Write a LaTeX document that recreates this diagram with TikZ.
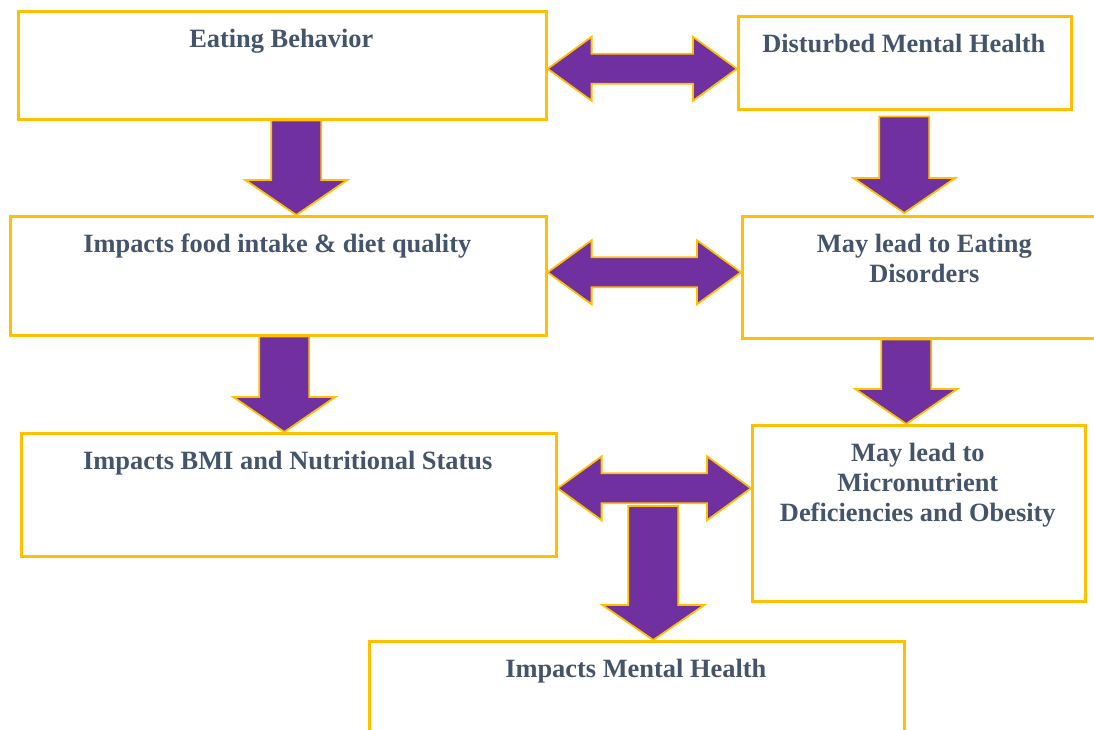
\documentclass[tikz,border=0pt]{standalone}
\usepackage{fontspec}
\setmainfont{Liberation Serif}
\usepackage{xcolor}
\usepackage{tikz}
\usetikzlibrary{calc}
\usetikzlibrary{positioning}

\definecolor{boxgold}{HTML}{FFC000}
\definecolor{arrpurple}{HTML}{7030A0}
\definecolor{txtslate}{HTML}{44546A}

\tikzset{
  box/.style={draw=boxgold,line width=2.6pt,fill=white,rectangle,inner sep=0pt,anchor=north west},
  lbl/.style={text=txtslate,font=\fontsize{26.4}{30}\selectfont\bfseries,align=center,inner sep=0pt,anchor=north},
  blockarr/.style={fill=arrpurple,draw=boxgold,line width=1.8pt,line join=miter}
}

% block arrow pointing down: #1 gives the top, #2 the tip
\newcommand{\blockdown}[2]{%
  \draw[blockarr] let \p1=#1, \p2=#2 in
    (\x2-25pt,\y1) -- (\x2+25pt,\y1) -- (\x2+25pt,\y2+35pt) -- (\x2+51pt,\y2+35pt)
    -- (\x2,\y2) -- (\x2-51pt,\y2+35pt) -- (\x2-25pt,\y2+35pt) -- cycle;}
% block arrow with two heads: #1 left tip, #2 right tip
\newcommand{\blockboth}[2]{%
  \draw[blockarr] let \p1=#1, \p2=#2 in
    (\x1,\y1) -- (\x1+44pt,\y1+32pt) -- (\x1+44pt,\y1+15pt) -- (\x2-44pt,\y1+15pt)
    -- (\x2-44pt,\y1+32pt) -- (\x2,\y1) -- (\x2-44pt,\y1-32pt) -- (\x2-44pt,\y1-15pt)
    -- (\x1+44pt,\y1-15pt) -- (\x1+44pt,\y1-32pt) -- cycle;}

\begin{document}
\begin{tikzpicture}[x=1pt,y=1pt]
	\useasboundingbox (0,0) rectangle (1094,730);
	\fill[white] (0,0) rectangle (1094,730);
	% boxes
	\node[box,minimum width=528pt,minimum height=108pt] (eat) at (17,720) {};
	\node[box,minimum width=333pt,minimum height=93pt] (dmh) at (737,715) {};
	\node[box,minimum width=536pt,minimum height=119pt] (food) at (9,515) {};
	\node[box,minimum width=366pt,minimum height=122pt] (ed) at (741,515) {};
	\node[box,minimum width=535pt,minimum height=123pt] (bmi) at (20,298) {};
	\node[box,minimum width=333pt,minimum height=176pt] (micro) at (751,306) {};
	\node[box,minimum width=535pt,minimum height=125pt] (mh) at (368,90) {};
	% texts
	\node[lbl] (eatlbl) at ([xshift=-1pt,yshift=-19pt]eat.north) {Eating Behavior};
	\node[lbl] (dmhlbl) at ([xshift=-1pt,yshift=-19pt]dmh.north) {Disturbed Mental Health};
	\node[lbl] (foodlbl) at ([xshift=-1pt,yshift=-19pt]food.north) {Impacts food intake \& diet quality};
	\node[lbl] (edlbl) at ([xshift=-1pt,yshift=-19pt]ed.north) {May lead to Eating\\Disorders};
	\node[lbl] (bmilbl) at ([xshift=-1pt,yshift=-19pt]bmi.north) {Impacts BMI and Nutritional Status};
	\node[lbl] (microlbl) at ([xshift=-1pt,yshift=-19pt]micro.north) {May lead to\\Micronutrient\\Deficiencies and Obesity};
	\node[lbl] (mhlbl) at ([xshift=-1pt,yshift=-19pt]mh.north) {Impacts Mental Health};
	% arrows
	\blockboth{([yshift=-3.5pt]eat.east)}{([yshift=-3.5pt]dmh.west)}
	\blockboth{([yshift=3.5pt]food.east)}{([yshift=3.5pt]ed.west)}
	\blockdown{(eat.south)}{([xshift=18pt]food.north)}
	\blockdown{([yshift=-6pt]dmh.south)}{([xshift=-21pt,yshift=2pt]ed.north)}
	\blockdown{(food.south)}{([xshift=-4.5pt]bmi.north)}
	\blockdown{(ed.south)}{([xshift=-12.5pt]micro.north)}
	\coordinate (split) at (652,224);
	\blockdown{(split)}{([xshift=16.5pt]mh.north)}
	\blockboth{([yshift=6.5pt]bmi.east)}{([yshift=6.5pt]micro.west)}
\end{tikzpicture}
\end{document}
